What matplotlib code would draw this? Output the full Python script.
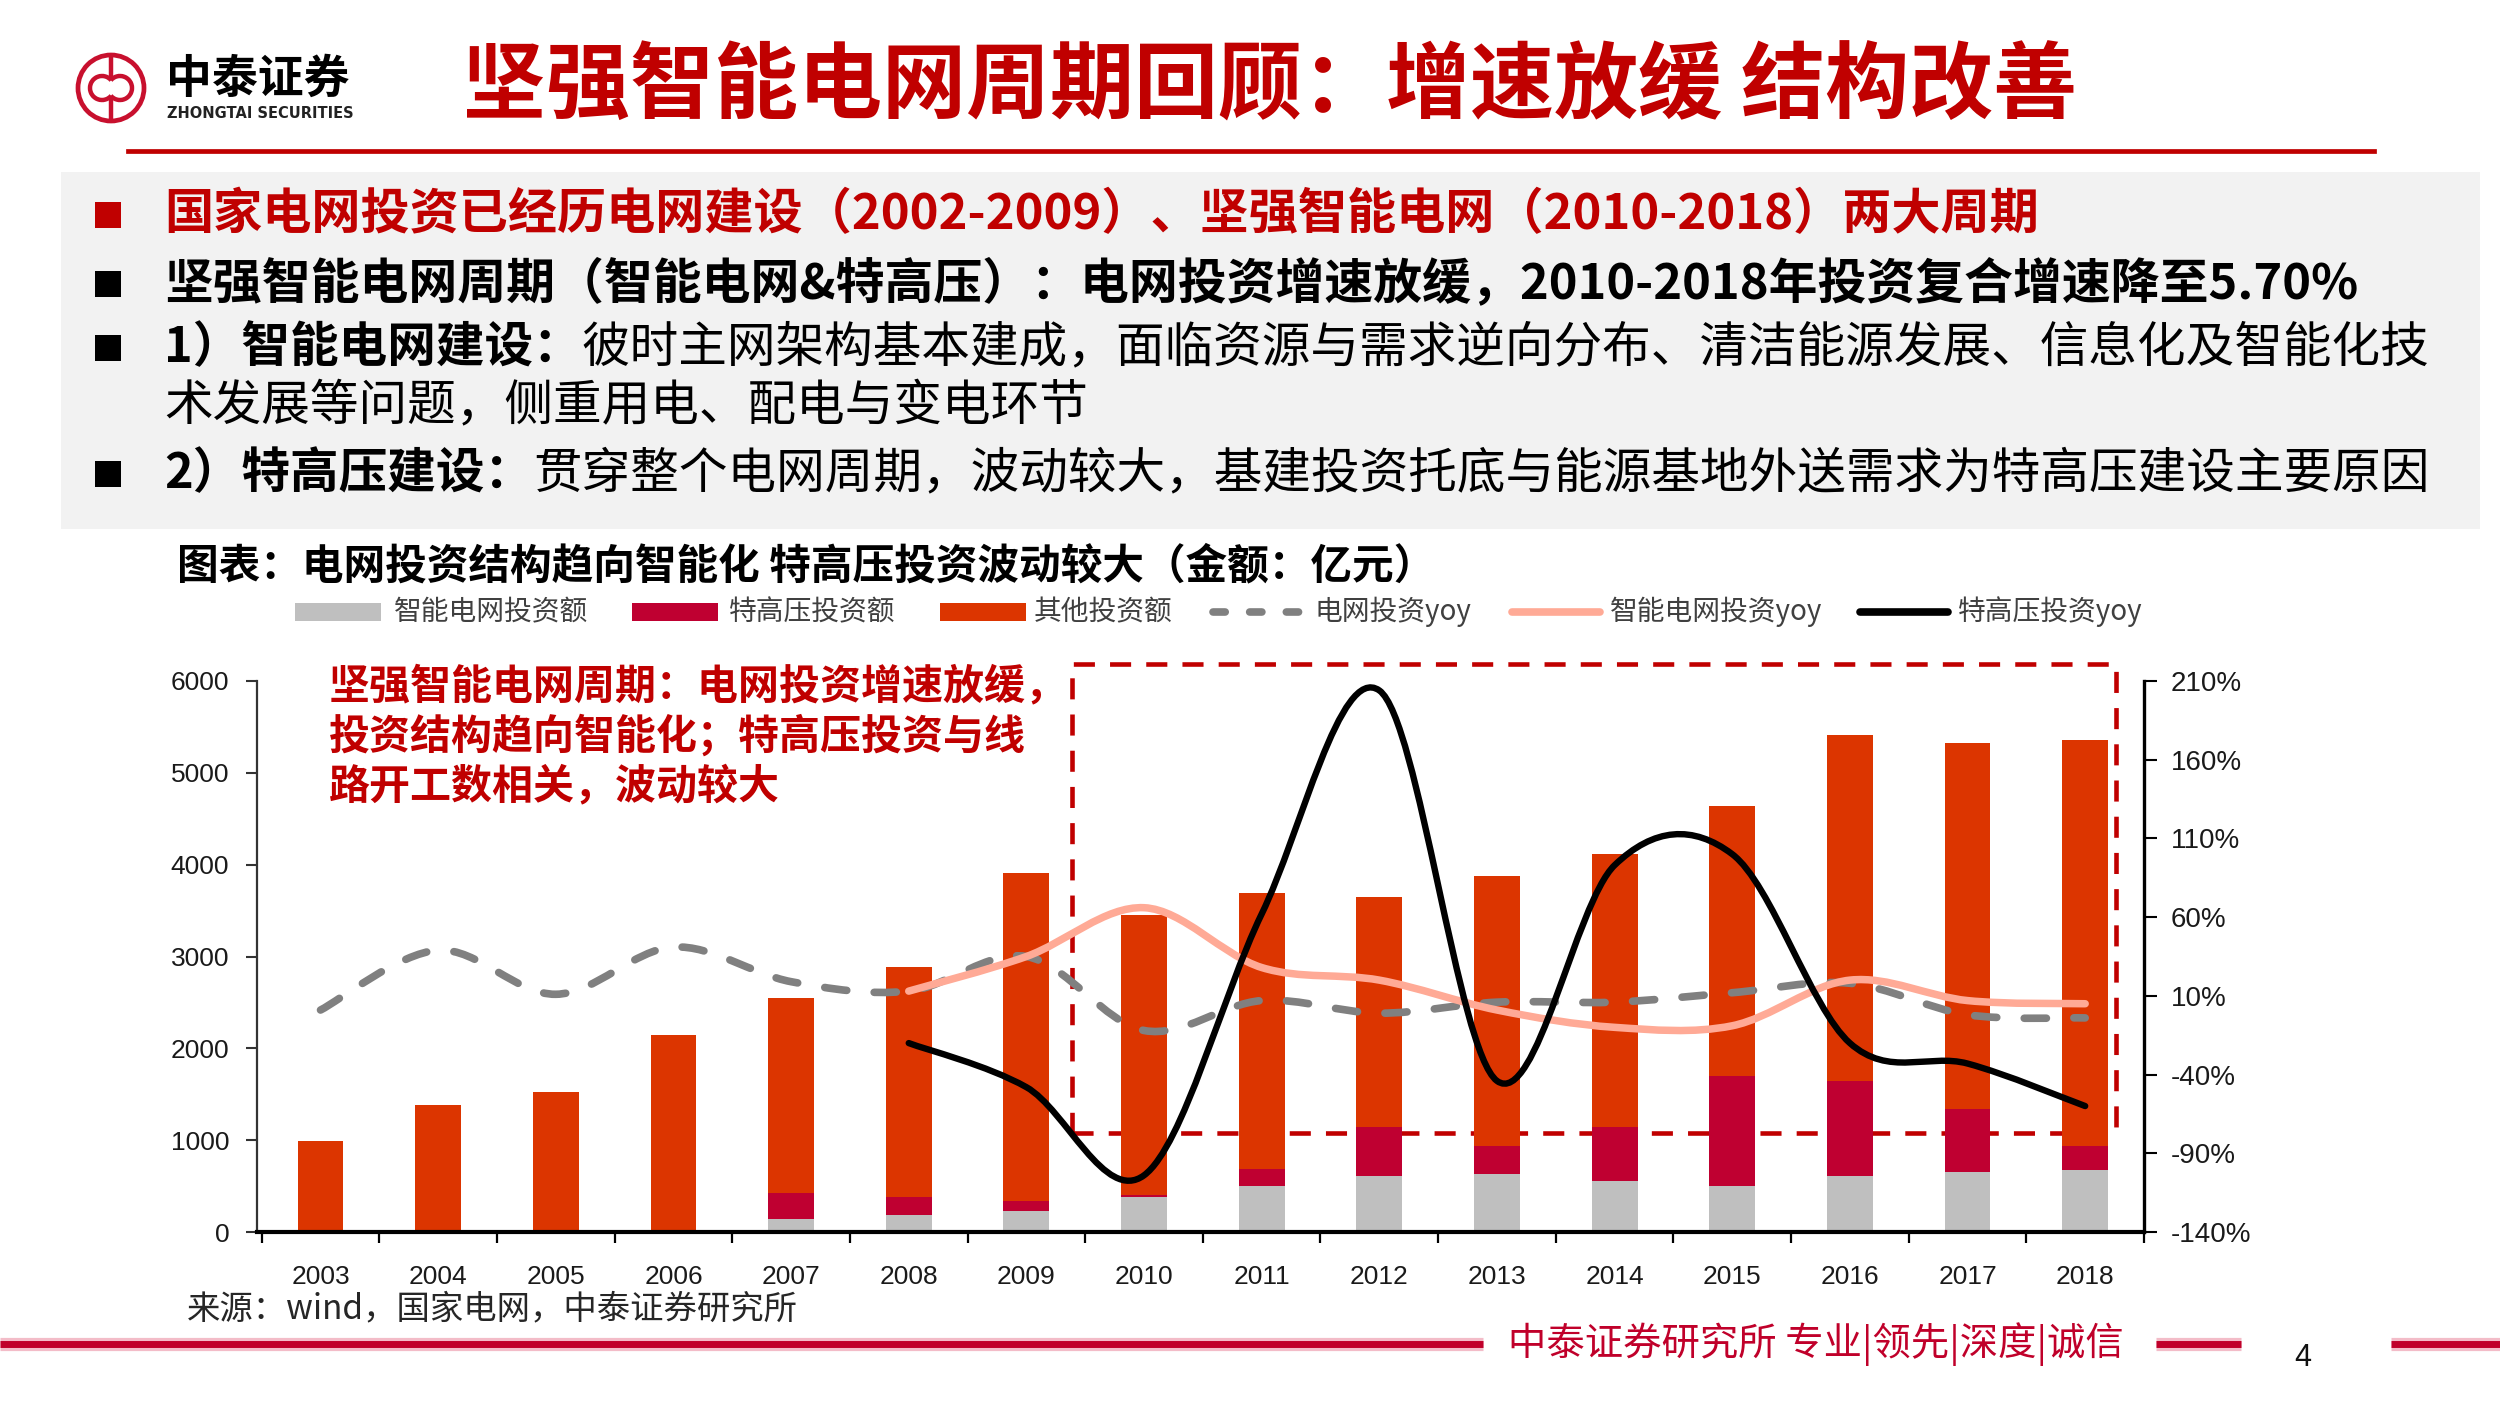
import matplotlib
matplotlib.use("Agg")
import matplotlib.pyplot as plt
import matplotlib.transforms as mtransforms
from matplotlib.patches import Rectangle, Circle, Arc, PathPatch
from matplotlib.path import Path
from matplotlib.lines import Line2D
import numpy as np

# ---------------- data ----------------
years = [str(y) for y in range(2003, 2019)]
smart_amt = [0, 0, 0, 0, 140, 180, 227, 385, 500, 612, 629, 552, 500, 612, 650, 676]
uhv_amt = [0, 0, 0, 0, 288, 205, 115, 21, 185, 526, 304, 595, 1194, 1035, 685, 265]
other_amt = [990, 1380, 1520, 2140, 2125, 2500, 3564, 3041, 3003, 2508, 2944, 2974, 2949, 3766, 3992, 4421]
grid_yoy = [1, 39, 11, 41, 19, 13, 35, -12, 7, -1, 6, 6, 12, 18, -2, -4]
yoy_years = years[5:]  # 2008-2018
smart_yoy = [13, 35, 66, 28, 20, 1, -10, -9, 20, 7, 5]
uhv_yoy = [-20, -48, -104, 62, 204, -44, 93, 100, -20, -33, -60]
left_ticks = [0, 1000, 2000, 3000, 4000, 5000, 6000]
right_ticks = [-140, -90, -40, 10, 60, 110, 160, 210]

legend_labels = ["智能电网投资额", "特高压投资额", "其他投资额", "电网投资yoy", "智能电网投资yoy", "特高压投资yoy"]

C_GRAY = "#BFBFBF"
C_UHV = "#BF0031"
C_OTHER = "#DC3500"
C_GRIDYOY = "#808080"
C_SMARTYOY = "#FFAA96"
C_UHVYOY = "#000000"
C_RED = "#C00000"
C_FOOT = "#C0002A"

CJK = ["Noto Sans CJK SC", "DejaVu Sans"]
NUM = ["Liberation Sans", "DejaVu Sans"]

W, H = 2500, 1406
fig = plt.figure(figsize=(25, 14.06), dpi=100)
pxT = mtransforms.Affine2D().scale(1 / 100.0) + fig.dpi_scale_trans


def Y(y):
    return H - y


def T(x, y, s, size, color="black", weight="normal", ha="left", va="center", family=CJK):
    return fig.text(x, Y(y), s, transform=pxT, fontsize=size, color=color,
                    fontweight=weight, ha=ha, va=va, family=family)


def hline(x0, x1, y, lw, color, **kw):
    fig.add_artist(Line2D([x0, x1], [Y(y), Y(y)], transform=pxT, lw=lw, color=color, **kw))


# ---------------- header ----------------
# logo
cx, cy = 111, 88
fig.add_artist(Circle((cx, Y(cy)), 33, transform=pxT, fill=False, edgecolor="#C8102E", lw=3.4))
fig.add_artist(Line2D([cx, cx], [Y(cy - 31), Y(cy - 12)], transform=pxT, lw=3.2, color="#C8102E"))
fig.add_artist(Line2D([cx, cx], [Y(cy + 12), Y(cy + 31)], transform=pxT, lw=3.2, color="#C8102E"))
fig.add_artist(Arc((cx - 9, Y(cy)), 24, 24, theta1=40, theta2=320, transform=pxT, lw=3.2, color="#C8102E"))
fig.add_artist(Arc((cx + 9, Y(cy)), 24, 24, theta1=-140, theta2=140, transform=pxT, lw=3.2, color="#C8102E"))
T(166, 80, "中泰证券", 33, weight="bold")
T(167, 114, "ZHONGTAI SECURITIES", 10.5, weight="bold", family=["DejaVu Sans"], color="#222222")

T(462, 88, "坚强智能电网周期回顾：增速放缓 结构改善", 60.5, color=C_RED, weight="bold")
hline(128, 2374, 151, 3.4, C_RED)

# gray box with bullets
fig.add_artist(Rectangle((61, Y(529)), 2419, 357, transform=pxT, facecolor="#F2F2F2", edgecolor="none"))


def bullet(y, color):
    fig.add_artist(Rectangle((95, Y(y + 13)), 26, 26, transform=pxT, facecolor=color, edgecolor="none"))


renderer = fig.canvas.get_renderer()


def mixed(x, y, parts, size):
    for s, w, col in parts:
        t = T(x, y, s, size, color=col, weight=w)
        bb = t.get_window_extent(renderer)
        x = bb.x1


BS = 35
bullet(215, C_RED)
T(164, 215, "国家电网投资已经历电网建设（2002-2009）、坚强智能电网（2010-2018）两大周期", 35.4, color=C_RED, weight="bold")
bullet(284, "black")
T(164, 284, "坚强智能电网周期（智能电网&特高压）：电网投资增速放缓，2010-2018年投资复合增速降至5.70%", 35.2, weight="bold")
bullet(348, "black")
mixed(164, 348, [("1）智能电网建设：", "bold", "black"),
                 ("彼时主网架构基本建成，面临资源与需求逆向分布、清洁能源发展、信息化及智能化技", "normal", "black")], BS)
T(164, 407, "术发展等问题，侧重用电、配电与变电环节", BS)
bullet(474, "black")
mixed(164, 474, [("2）特高压建设：", "bold", "black"),
                 ("贯穿整个电网周期，波动较大，基建投资托底与能源基地外送需求为特高压建设主要原因", "normal", "black")], BS)

# chart caption
T(177, 566, "图表：电网投资结构趋向智能化 特高压投资波动较大（金额：亿元）", 30, weight="bold")

# ---------------- legend (manual) ----------------
LY = 612
LEG_FS = 20
LEG_C = "#404040"
fig.add_artist(Rectangle((295, Y(LY + 9)), 86, 18, transform=pxT, facecolor=C_GRAY, edgecolor="none"))
T(394, LY, legend_labels[0], LEG_FS, color=LEG_C)
fig.add_artist(Rectangle((632, Y(LY + 9)), 86, 18, transform=pxT, facecolor=C_UHV, edgecolor="none"))
T(729, LY, legend_labels[1], LEG_FS, color=LEG_C)
fig.add_artist(Rectangle((940, Y(LY + 9)), 86, 18, transform=pxT, facecolor=C_OTHER, edgecolor="none"))
T(1034, LY, legend_labels[2], LEG_FS, color=LEG_C)
fig.add_artist(Line2D([1213, 1300], [Y(LY), Y(LY)], transform=pxT, lw=5.5, color=C_GRIDYOY,
                      linestyle=(0, (1.6, 3.2)), solid_capstyle="round", dash_capstyle="round"))
T(1315, LY, legend_labels[3], LEG_FS, color=LEG_C)
fig.add_artist(Line2D([1512, 1600], [Y(LY), Y(LY)], transform=pxT, lw=5.5, color=C_SMARTYOY,
                      solid_capstyle="round"))
T(1610, LY, legend_labels[4], LEG_FS, color=LEG_C)
fig.add_artist(Line2D([1860, 1948], [Y(LY), Y(LY)], transform=pxT, lw=5.5, color=C_UHVYOY,
                      solid_capstyle="round"))
T(1958, LY, legend_labels[5], LEG_FS, color=LEG_C)

# ---------------- chart ----------------
ax_l, ax_r, ax_t, ax_b = 257, 2144, 681, 1232
ax = fig.add_axes([ax_l / W, 1 - ax_b / H, (ax_r - ax_l) / W, (ax_b - ax_t) / H])
x = np.arange(len(years))
smart_a = np.array(smart_amt)
uhv_a = np.array(uhv_amt)
other_a = np.array(other_amt)
bw = 0.39
ax.bar(x, smart_a, width=bw, color=C_GRAY, zorder=3)
ax.bar(x, uhv_a, bottom=smart_a, width=bw, color=C_UHV, zorder=3)
ax.bar(x, other_a, bottom=smart_a + uhv_a, width=bw, color=C_OTHER, zorder=3)
ax.set_xlim(-0.54, 15.5)
ax.set_ylim(0, 6000)
ax.set_yticks(left_ticks)
ax.set_yticklabels([str(v) for v in left_ticks])
ax.set_xticks(x)
ax.set_xticklabels(years)
ax.set_xticks(np.arange(-0.5, 16, 1), minor=True)
ax.tick_params(axis="x", which="major", length=0, pad=24, labelsize=19, labelcolor="#1a1a1a")
ax.tick_params(axis="x", which="minor", length=8, width=1.6, direction="out", color="black")
ax.tick_params(axis="y", which="major", length=8, width=1.5, direction="out", pad=12,
               labelsize=19, labelcolor="#1a1a1a", color="#333333")
for lab in ax.get_xticklabels() + ax.get_yticklabels():
    lab.set_family(NUM)
ax.spines["top"].set_visible(False)
ax.spines["right"].set_visible(False)
ax.spines["left"].set_color("#333333")
ax.spines["left"].set_linewidth(1.6)
ax.spines["bottom"].set_color("black")
ax.spines["bottom"].set_linewidth(3.0)
ax.spines["bottom"].set_zorder(5)
ax.patch.set_visible(False)

# red dashed box (behind bars)
box = Rectangle((6.39, 1083), 15.26 - 6.39, 6190 - 1083, fill=False, edgecolor=C_RED, lw=3.3,
                linestyle=(0, (4.6, 3.3)), clip_on=False, zorder=1)
ax.add_patch(box)

# annotation
ann_lines = ["坚强智能电网周期：电网投资增速放缓，", "投资结构趋向智能化；特高压投资与线", "路开工数相关，波动较大"]
for i, s in enumerate(ann_lines):
    T(329, 686 + i * 50, s, 29.5, color=C_RED, weight="bold")

# right axis with smooth yoy curves
ax2 = ax.twinx()
ax2.set_xlim(-0.54, 15.5)
ax2.set_ylim(-140, 210)
ax2.set_yticks(right_ticks)
ax2.set_yticklabels([f"{v}%" for v in right_ticks])
ax2.tick_params(axis="y", length=9, width=1.5, direction="out", pad=10, labelsize=20,
                labelcolor="#1a1a1a", color="black")
for lab in ax2.get_yticklabels():
    lab.set_family(NUM)
for s in ["top", "left", "bottom"]:
    ax2.spines[s].set_visible(False)
ax2.spines["right"].set_linewidth(2.4)
ax2.spines["right"].set_color("black")


def smooth_path(xs, ys):
    n = len(xs)
    verts = [(xs[0], ys[0])]
    codes = [Path.MOVETO]
    for i in range(n - 1):
        xm1, ym1 = (xs[i - 1], ys[i - 1]) if i > 0 else (xs[i], ys[i])
        xp2, yp2 = (xs[i + 2], ys[i + 2]) if i + 2 < n else (xs[i + 1], ys[i + 1])
        c1 = (xs[i] + (xs[i + 1] - xm1) / 6.0, ys[i] + (ys[i + 1] - ym1) / 6.0)
        c2 = (xs[i + 1] - (xp2 - xs[i]) / 6.0, ys[i + 1] - (yp2 - ys[i]) / 6.0)
        verts += [c1, c2, (xs[i + 1], ys[i + 1])]
        codes += [Path.CURVE4] * 3
    return Path(verts, codes)


x_yoy = np.arange(5, 16)
ax2.add_patch(PathPatch(smooth_path(list(x), grid_yoy), fill=False, edgecolor=C_GRIDYOY, lw=5.5,
                        linestyle=(0, (2.9, 3.6)), capstyle="round", zorder=4))
ax2.add_patch(PathPatch(smooth_path(list(x_yoy), smart_yoy), fill=False, edgecolor=C_SMARTYOY, lw=5.4,
                        capstyle="round", joinstyle="round", zorder=5))
ax2.add_patch(PathPatch(smooth_path(list(x_yoy), uhv_yoy), fill=False, edgecolor=C_UHVYOY, lw=4.6,
                        capstyle="round", joinstyle="round", zorder=6))

# source
T(187, 1309, "来源：wind，国家电网，中泰证券研究所", 24, color="#262626")

# ---------------- footer ----------------
for (a, b) in [(0, 1483), (2156, 2241), (2391, 2500)]:
    hline(a, b, 1344, 9.5, "#F3BCC8", solid_capstyle="butt")
    hline(a, b, 1344, 5.0, C_FOOT, solid_capstyle="butt")
T(1508, 1344, "中泰证券研究所 专业|领先|深度|诚信", 27.6, color=C_FOOT)
T(2294, 1358, "4", 22, family=NUM, color="#111111")

fig.savefig("out.png", dpi=100)
